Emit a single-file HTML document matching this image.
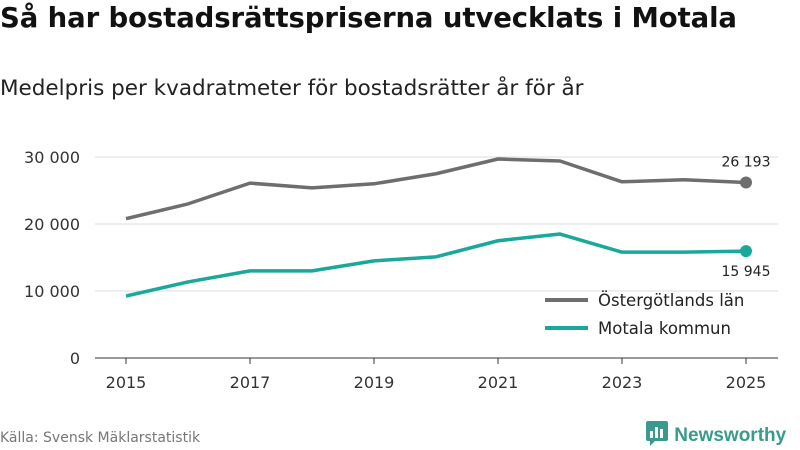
<!DOCTYPE html>
<html><head><meta charset="utf-8"><style>
body{margin:0;background:#fff;font-family:"DejaVu Sans","Liberation Sans",sans-serif;}
#wrap{position:relative;width:800px;height:450px;overflow:hidden;}
h1{position:absolute;left:0;top:2px;margin:0;font-size:27.5px;font-weight:bold;color:#111;white-space:nowrap;letter-spacing:-0.1px}
h2{position:absolute;left:0;top:76px;margin:0;font-size:21.5px;font-weight:normal;color:#222;white-space:nowrap}
.src{position:absolute;left:0;top:430px;font-size:14px;color:#777;white-space:nowrap}
.logo{position:absolute;left:645px;top:420px;font-size:19px;font-family:"Liberation Sans",sans-serif;font-weight:bold;color:#3a9a8e;white-space:nowrap}
</style></head><body><div id="wrap">
<h1>Så har bostadsrättspriserna utvecklats i Motala</h1>
<h2>Medelpris per kvadratmeter för bostadsrätter år för år</h2>
<svg id="chart" width="800" height="450" style="position:absolute;left:0;top:0"></svg>
<div class="src">Källa: Svensk Mäklarstatistik</div>
<div class="logo"><svg width="24" height="26" style="vertical-align:-5px"><rect x="1" y="1" width="22" height="20" rx="2" fill="#3a9a8e"/><rect x="5" y="11" width="3" height="7" fill="#fff"/><rect x="10" y="7" width="3" height="11" fill="#fff"/><rect x="15" y="9" width="3" height="9" fill="#fff"/><path d="M5 21 L5 26 L10 21Z" fill="#3a9a8e"/></svg> Newsworthy</div>
</div>
<script>
const years=[2015,2016,2017,2018,2019,2020,2021,2022,2023,2024,2025];
const oster=[20800,23000,26100,25400,26000,27500,29700,29400,26300,26600,26193];
const motala=[9250,11350,13000,13000,14500,15100,17500,18500,15800,15800,15945];
const yTicks=[0,10000,20000,30000];
const yTickLabels=["0","10 000","20 000","30 000"];
const xTicks=[2015,2017,2019,2021,2023,2025];
const NS="http://www.w3.org/2000/svg";
const svg=document.getElementById('chart');
const x=v=>126+(v-2015)*62;
const y=v=>358-v*0.0067;
function el(t,a){const e=document.createElementNS(NS,t);for(const k in a)e.setAttribute(k,a[k]);svg.appendChild(e);return e;}
yTicks.forEach((t,i)=>{
 const g=el('line',{x1:95,x2:778,y1:y(t),y2:y(t),stroke:t==0?'#333':'#ddd','stroke-width':1});
 
 
 const tx=el('text',{x:80,y:y(t)+6,'text-anchor':'end','font-size':16,fill:'#333'});
 tx.textContent=yTickLabels[i];
 
 
});
xTicks.forEach(t=>{
 const l=el('line',{x1:x(t),x2:x(t),y1:358,y2:364,stroke:'#333'});
 
 
 const tx=el('text',{x:x(t),y:388,'text-anchor':'middle','font-size':16,fill:'#333'});
 tx.textContent=t;
 
 
});
function series(vals,color,name,labelDy){
 const p=el('polyline',{points:vals.map((v,i)=>x(years[i])+','+y(v)).join(' '),fill:'none',stroke:color,'stroke-width':3.5,'stroke-linejoin':'round'});
 
 
 const n=vals.length-1;
 const c=el('circle',{cx:x(years[n]),cy:y(vals[n]),r:6,fill:color});
 
 
 const t=el('text',{x:x(years[n]),y:y(vals[n])+labelDy,'text-anchor':'middle','font-size':14,fill:'#222'});
 t.textContent=vals[n].toLocaleString('sv-SE').replace(/\s/g,' ');
 
 
}
series(oster,'#6e6e6e','ostergotland',-16);
series(motala,'#1aa89a','motala',25);
[['Östergötlands län','#6e6e6e',300],['Motala kommun','#1aa89a',328]].forEach(([lab,col,yy])=>{
 const l=el('line',{x1:545,x2:588,y1:yy,y2:yy,stroke:col,'stroke-width':4});
 
 
 const t=el('text',{x:598,y:yy+6,'font-size':16.5,fill:'#222'});
 t.textContent=lab;
 
 
});
</script></body></html>
